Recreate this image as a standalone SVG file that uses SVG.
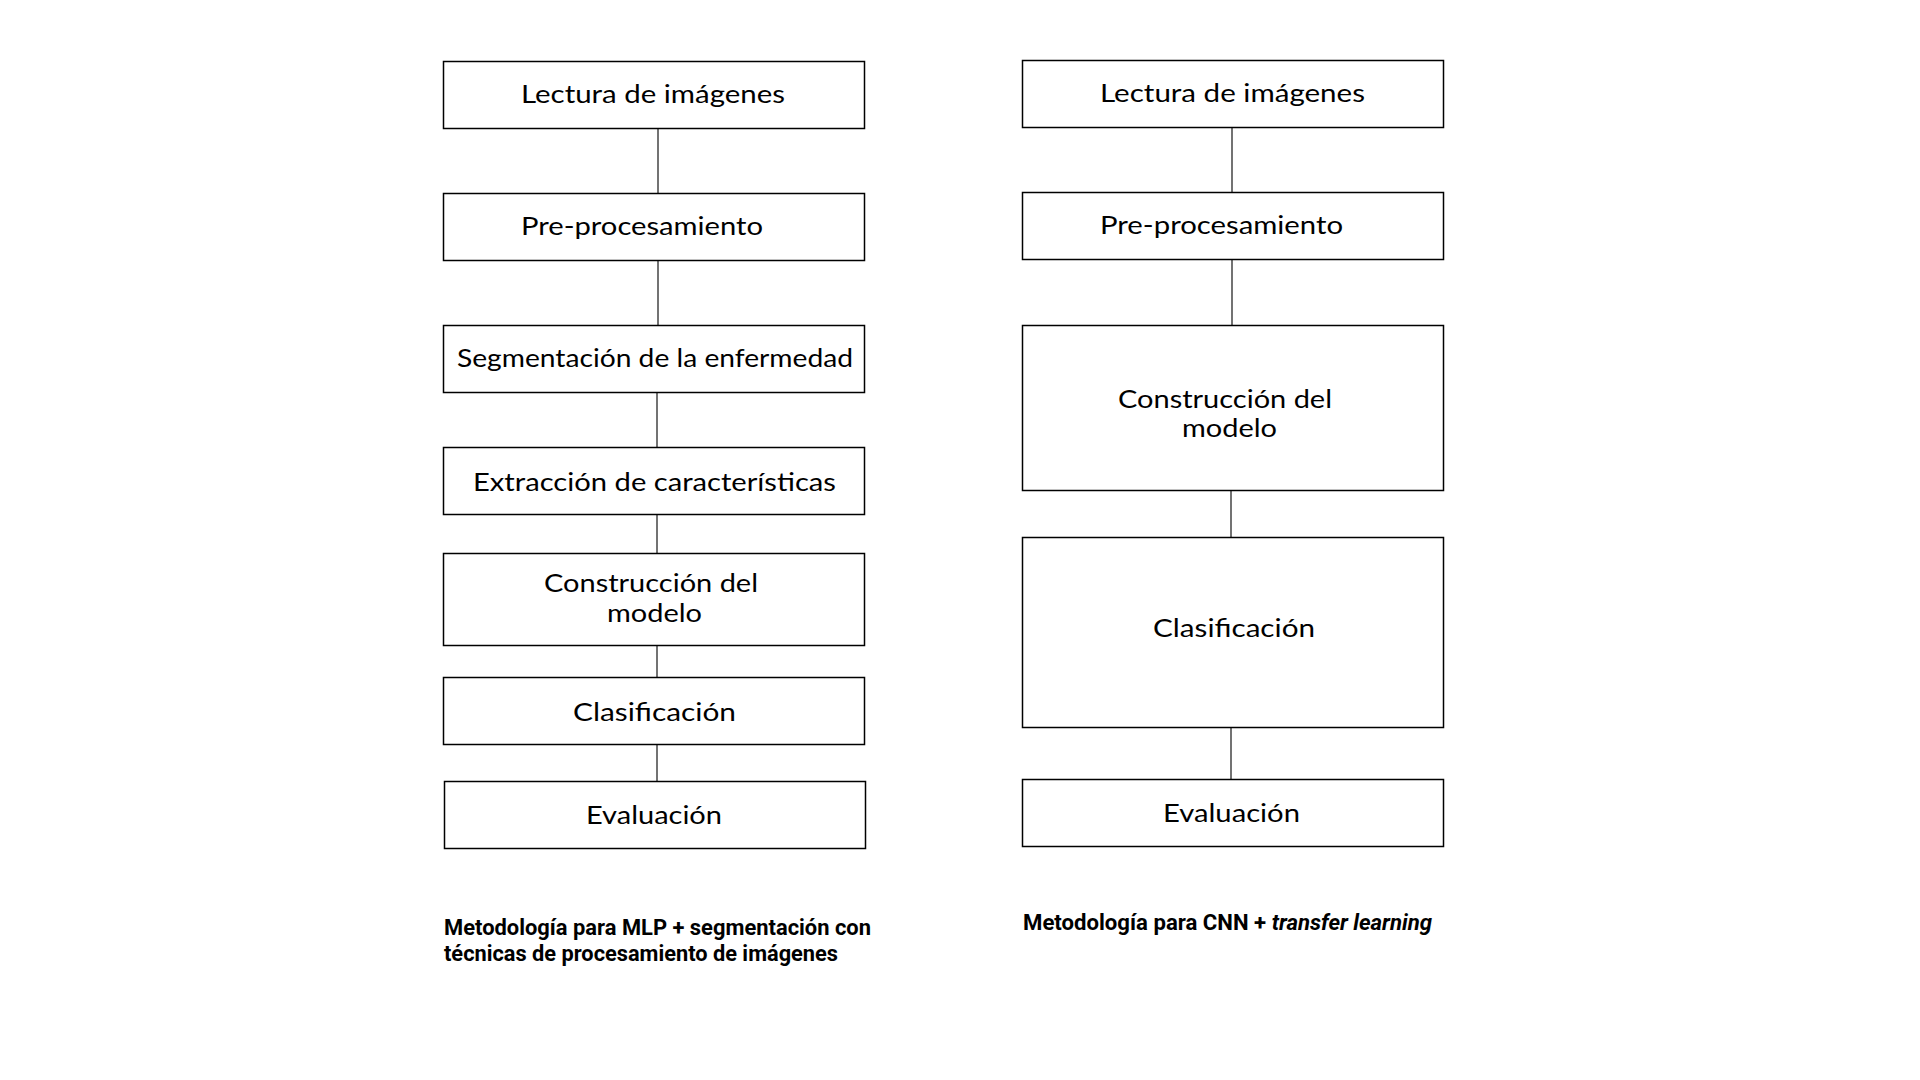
<svg xmlns="http://www.w3.org/2000/svg" width="1920" height="1080" viewBox="0 0 1920 1080">
<style>
.box{fill:#fff;stroke:#000;stroke-width:1.5}
.lbl{font-family:Lato,"Open Sans","Liberation Sans",sans-serif;font-size:25px;fill:#000}
.con{stroke:#444;stroke-width:1.5;fill:none}
.cap{font-family:Roboto,"Liberation Sans",sans-serif;font-weight:bold;font-size:22px;fill:#000}
</style>
<rect width="1920" height="1080" fill="#fff"/>
<g id="connectors">
<line class="con" x1="658" y1="129" x2="658" y2="193"/>
<line class="con" x1="658" y1="261" x2="658" y2="325"/>
<line class="con" x1="657" y1="393" x2="657" y2="447"/>
<line class="con" x1="657" y1="515" x2="657" y2="553"/>
<line class="con" x1="657" y1="646" x2="657" y2="677"/>
<line class="con" x1="657" y1="744" x2="657" y2="781"/>
<line class="con" x1="1232" y1="128" x2="1232" y2="192"/>
<line class="con" x1="1232" y1="260" x2="1232" y2="325"/>
<line class="con" x1="1231" y1="491" x2="1231" y2="537"/>
<line class="con" x1="1231" y1="727" x2="1231" y2="779"/>
</g>
<g id="l1"><rect class="box" x="443.5" y="61.5" width="421" height="67"/><text class="lbl" x="521" y="103" textLength="264" lengthAdjust="spacingAndGlyphs">Lectura de imágenes</text></g>
<g id="l2"><rect class="box" x="443.5" y="193.5" width="421" height="67"/><text class="lbl" x="521" y="235" textLength="242" lengthAdjust="spacingAndGlyphs">Pre-procesamiento</text></g>
<g id="l3"><rect class="box" x="443.5" y="325.5" width="421" height="67"/><text class="lbl" x="457" y="367" textLength="396" lengthAdjust="spacingAndGlyphs">Segmentación de la enfermedad</text></g>
<g id="l4"><rect class="box" x="443.5" y="447.5" width="421" height="67"/><text class="lbl" x="473" y="491" textLength="363" lengthAdjust="spacingAndGlyphs">Extracción de características</text></g>
<g id="l5"><rect class="box" x="443.5" y="553.5" width="421" height="92"/><text class="lbl" x="544" y="592" textLength="214" lengthAdjust="spacingAndGlyphs">Construcción del</text><text class="lbl" x="607" y="622" textLength="95" lengthAdjust="spacingAndGlyphs">modelo</text></g>
<g id="l6"><rect class="box" x="443.5" y="677.5" width="421" height="67"/><text class="lbl" x="573" y="721" textLength="163" lengthAdjust="spacingAndGlyphs">Clasificación</text></g>
<g id="l7"><rect class="box" x="444.5" y="781.5" width="421" height="67"/><text class="lbl" x="586" y="824" textLength="136" lengthAdjust="spacingAndGlyphs">Evaluación</text></g>
<g id="r1"><rect class="box" x="1022.5" y="60.5" width="421" height="67"/><text class="lbl" x="1100" y="102" textLength="265" lengthAdjust="spacingAndGlyphs">Lectura de imágenes</text></g>
<g id="r2"><rect class="box" x="1022.5" y="192.5" width="421" height="67"/><text class="lbl" x="1100" y="234" textLength="243" lengthAdjust="spacingAndGlyphs">Pre-procesamiento</text></g>
<g id="r3"><rect class="box" x="1022.5" y="325.5" width="421" height="165"/><text class="lbl" x="1118" y="408" textLength="214" lengthAdjust="spacingAndGlyphs">Construcción del</text><text class="lbl" x="1182" y="437" textLength="95" lengthAdjust="spacingAndGlyphs">modelo</text></g>
<g id="r4"><rect class="box" x="1022.5" y="537.5" width="421" height="190"/><text class="lbl" x="1153" y="637" textLength="162" lengthAdjust="spacingAndGlyphs">Clasificación</text></g>
<g id="r5"><rect class="box" x="1022.5" y="779.5" width="421" height="67"/><text class="lbl" x="1163" y="822" textLength="137" lengthAdjust="spacingAndGlyphs">Evaluación</text></g>
<g id="captions">
<text class="cap" x="444" y="935" textLength="427" lengthAdjust="spacingAndGlyphs">Metodología para MLP + segmentación con</text>
<text class="cap" x="444" y="961" textLength="394" lengthAdjust="spacingAndGlyphs">técnicas de procesamiento de imágenes</text>
<text class="cap" x="1023" y="930" textLength="409" lengthAdjust="spacingAndGlyphs">Metodología para CNN + <tspan font-style="italic">transfer learning</tspan></text>
</g>
</svg>
